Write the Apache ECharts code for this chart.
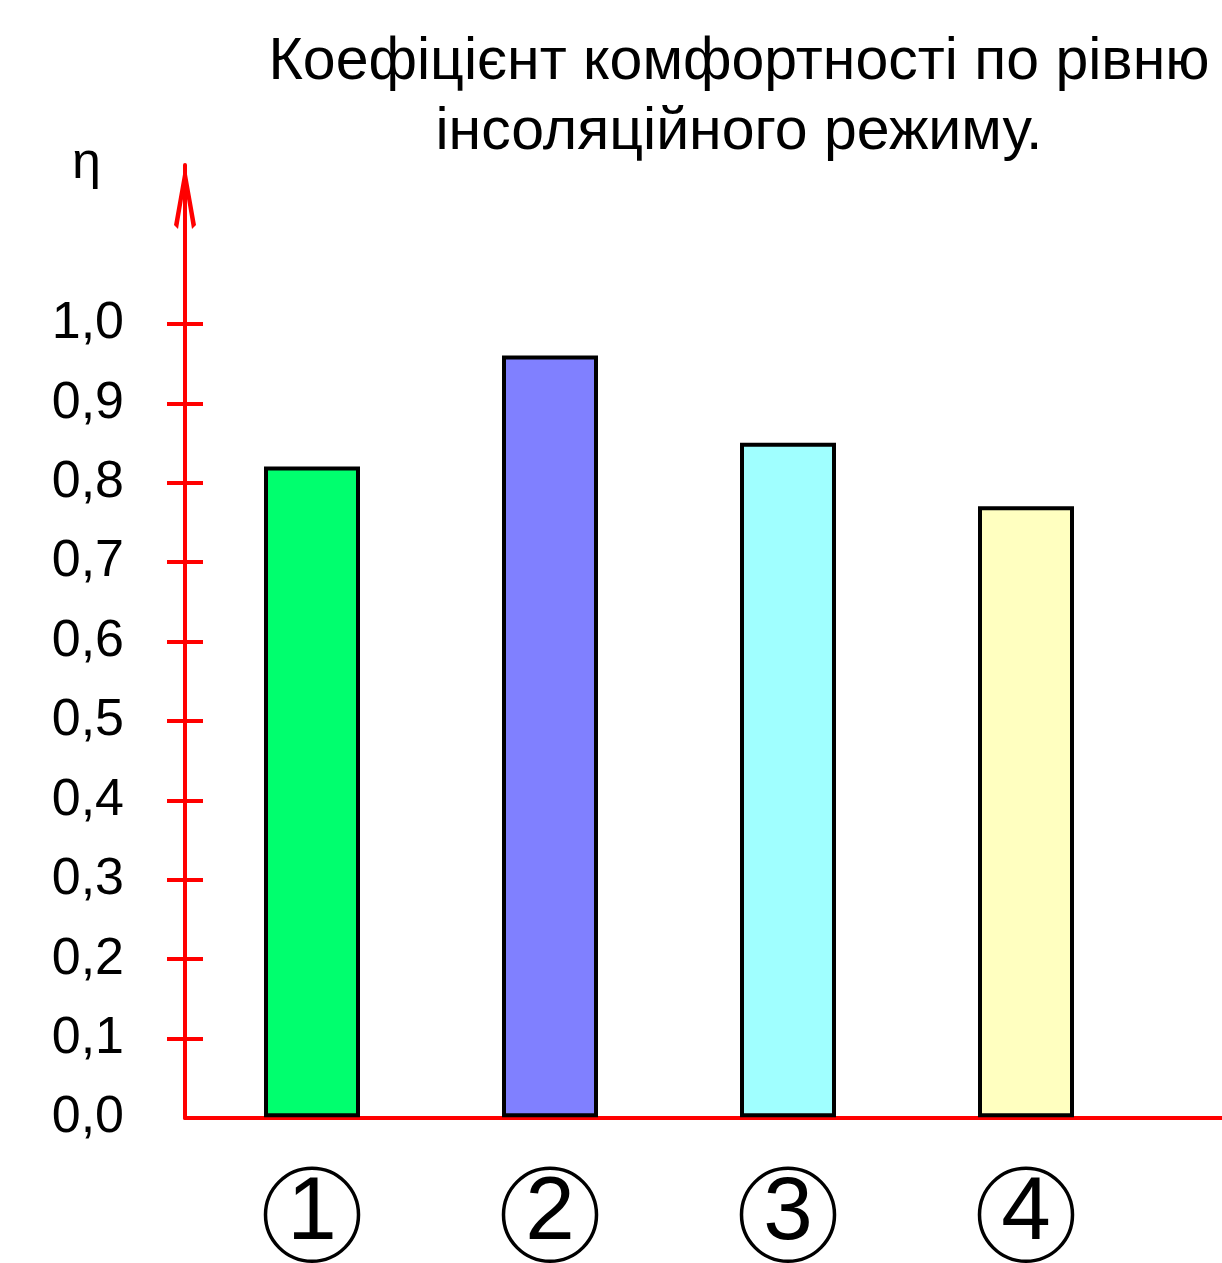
<!DOCTYPE html>
<html>
<head>
<meta charset="utf-8">
<script src="https://cdn.jsdelivr.net/npm/echarts@6/dist/echarts.min.js"></script>
<style>
html,body{margin:0;padding:0;background:#fff;}
#chart{width:1222px;height:1263px;}
</style>
</head>
<body>
<div id="chart"></div>
<script>
const titleText = 'Коефіцієнт комфортності по рівню\nінсоляційного режиму.';
const yName = 'η';
const categories = ['1', '2', '3', '4'];
const values = [0.82, 0.96, 0.85, 0.77];
const barColors = ['#00FF6E', '#8080FF', '#A0FFFF', '#FFFFC0'];
const tickValues = [0.1, 0.2, 0.3, 0.4, 0.5, 0.6, 0.7, 0.8, 0.9, 1.0];
const labelValues = [0, 0.1, 0.2, 0.3, 0.4, 0.5, 0.6, 0.7, 0.8, 0.9, 1.0];

const FONT = 'Liberation Sans, Arial, sans-serif';
const chart = echarts.init(document.getElementById('chart'), null, {renderer: 'canvas'});

const option = {
  backgroundColor: '#fff',
  animation: false,
  title: [
    {
      text: titleText,
      left: 739,
      top: 28,
      padding: 0,
      textAlign: 'center',
      textStyle: {fontFamily: FONT, fontSize: 59, fontWeight: 'normal', color: '#000', lineHeight: 70}
    },
    {
      text: yName,
      left: 72,
      top: 138,
      padding: 0,
      textStyle: {fontFamily: FONT, fontSize: 52, fontWeight: 'normal', color: '#000'}
    }
  ],
  grid: [
    {left: 193, width: 952, top: 165, bottom: 145},
    {left: 185, right: 0, top: 165, bottom: 145}
  ],
  xAxis: [
    {
      type: 'category', gridIndex: 0, data: categories,
      axisLine: {show: false}, axisTick: {show: false},
      axisLabel: {
        margin: 51,
        formatter: v => '{c|' + v + '}',
        rich: {
          c: {
            width: 93, height: 93, lineHeight: 93, borderRadius: 49,
            borderColor: '#000', borderWidth: 3.5,
            fontSize: 89, fontFamily: FONT, color: '#000', align: 'center'
          }
        }
      }
    },
    {
      type: 'value', gridIndex: 1, min: 0, max: 1,
      axisLine: {show: true, lineStyle: {color: '#FF0000', width: 4}},
      axisTick: {show: false}, axisLabel: {show: false}, splitLine: {show: false}
    }
  ],
  yAxis: [
    {type: 'value', gridIndex: 0, min: 0, max: 1.2, show: false},
    {
      type: 'value', gridIndex: 1, min: 0, max: 1.2, interval: 0.1,
      axisLine: {
        show: true, lineStyle: {color: '#FF0000', width: 4},
        symbol: ['none', 'path://M11,0 L22,62 L18,66 L11,24 L4,66 L0,62 Z'],
        symbolSize: [22, 66], symbolOffset: [0, -31]
      },
      axisTick: {show: true, inside: false, length: 18, customValues: tickValues,
        lineStyle: {color: '#FF0000', width: 4}},
      axisLabel: {
        show: true, margin: 61, customValues: labelValues,
        fontFamily: FONT, fontSize: 52, color: '#000',
        formatter: v => v.toFixed(1).replace('.', ',')
      },
      splitLine: {show: false}
    },
    {
      type: 'value', gridIndex: 1, min: 0, max: 1.2, interval: 0.1, position: 'left',
      axisLine: {show: false},
      axisTick: {show: true, inside: true, length: 18, customValues: tickValues,
        lineStyle: {color: '#FF0000', width: 4}},
      axisLabel: {show: false},
      splitLine: {show: false}
    }
  ],
  series: [
    {
      type: 'bar', xAxisIndex: 0, yAxisIndex: 0,
      barWidth: 96, z: 5,
      data: values.map((v, i) => ({value: v, itemStyle: {color: barColors[i]}})),
      itemStyle: {borderColor: '#000', borderWidth: 4}
    }
  ]
};
chart.setOption(option);
</script>
</body>
</html>
